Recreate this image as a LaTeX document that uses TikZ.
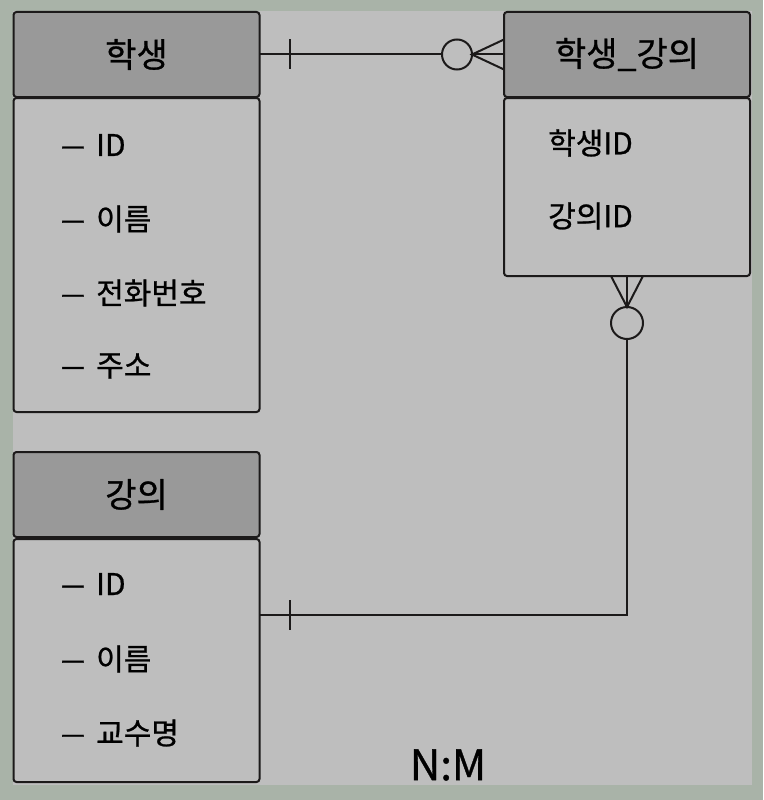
\documentclass[tikz,border=0pt]{standalone}
\usepackage{graphicx}
\usepackage{fontspec}
\setmainfont{Noto Sans CJK KR}[FakeBold=0.8]
\usetikzlibrary{positioning}
\definecolor{bgout}{HTML}{A9B3A8}
\definecolor{bgin}{HTML}{BEBEBE}
\definecolor{hdrgray}{HTML}{999999}
\definecolor{ink}{HTML}{1C1A1A}
\tikzset{
  hdr/.style={draw=ink, line width=2pt, fill=hdrgray, rounded corners=3pt,
    minimum width=246pt, minimum height=85pt, inner sep=0pt, outer sep=0pt,
    font=\fontsize{34}{34}\selectfont},
  body/.style={draw=ink, line width=2pt, fill=bgin, rounded corners=3pt,
    minimum width=246pt, inner sep=0pt, outer sep=0pt},
  item/.style={anchor=west, inner sep=0pt, font=\fontsize{30}{30}\selectfont},
  rel/.style={draw=ink, line width=2pt},
}
\newcommand{\bul}{\makebox[36pt][l]{\scalebox{1.6}[1]{–}}}
\begin{document}
\begin{tikzpicture}[x=1pt, y=-1pt]
\fill[bgout] (0,0) rectangle (763,800);
\fill[bgin] (13,11) rectangle (752,785);
% 학생
\node[hdr] (hak) at (136.5,54.5) {학생};
\node[body, minimum height=314pt, below=1pt of hak] (hakbody) {};
\node[item] (hak-id) at (60,145) {\bul ID};
\node[item] (hak-name) at (60,219) {\bul 이름};
\node[item] (hak-tel) at (60,293) {\bul 전화번호};
\node[item] (hak-addr) at (60,366) {\bul 주소};
% 학생_강의
\node[hdr] (hg) at (627,54.5) {학생\_강의};
\node[body, minimum height=178pt, below=1pt of hg] (hgbody) {};
\node[item] (hg-sid) at (548,143) {학생ID};
\node[item] (hg-lid) at (548,216) {강의ID};
% 강의
\node[hdr] (gb) at (136.5,494.5) {강의};
\node[body, minimum height=243pt, below=2pt of gb] (gbbody) {};
\node[item] (gb-id) at (60,584) {\bul ID};
\node[item] (gb-name) at (60,659) {\bul 이름};
\node[item] (gb-prof) at (60,733) {\bul 교수명};
% 학생 -- 학생_강의
\coordinate (c1) at ([xshift=-32pt]hg.west);
\draw[rel] (hak.east) -- (hg.west);
\draw[rel] ([xshift=30pt,yshift=15pt]hak.east) -- ([xshift=30pt,yshift=-15pt]hak.east);
\draw[rel, fill=bgin] ([xshift=-15pt]c1) circle[radius=15pt];
\draw[rel] ([yshift=15pt]hg.west) -- (c1) -- ([yshift=-15pt]hg.west);
% 강의 -- 학생_강의
\coordinate (lk) at ([yshift=45.5pt]gbbody.east);
\coordinate (c2) at ([yshift=-31pt]hgbody.south);
\draw[rel] (hgbody.south) |- (lk);
\draw[rel] ([xshift=30pt,yshift=15pt]lk) -- ([xshift=30pt,yshift=-15pt]lk);
\draw[rel, fill=bgin] ([yshift=-16pt]c2) circle[radius=16pt];
\draw[rel] ([xshift=-16pt]hgbody.south) -- (c2) -- ([xshift=16pt]hgbody.south);
\node[font=\fontsize{42}{42}\selectfont] (nm) at (448,765) {N:M};
\end{tikzpicture}
\end{document}
